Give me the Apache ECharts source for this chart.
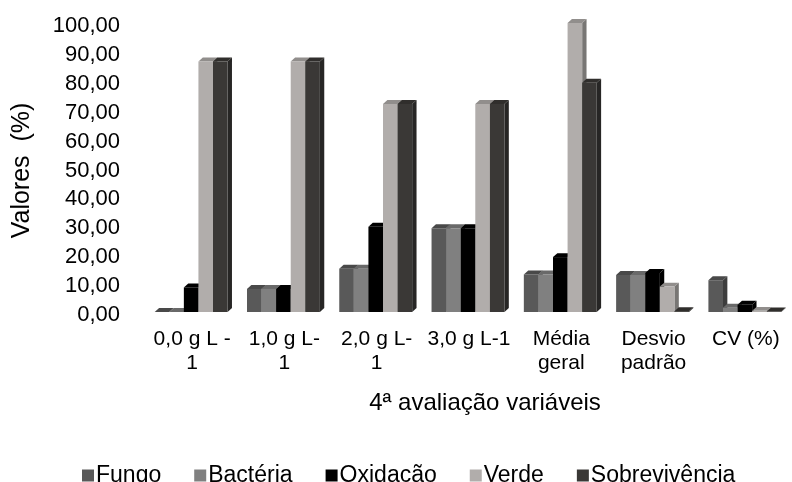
<!DOCTYPE html>
<html><head><meta charset="utf-8">
<script src="https://cdn.jsdelivr.net/npm/echarts@6/dist/echarts.min.js"></script>
<style>html,body{margin:0;padding:0;background:#fff}#c{width:792px;height:482px}</style>
</head><body><div id="c"></div>
<script>
var categories = ["0,0 g L -1", "1,0 g L-1", "2,0 g L-1", "3,0 g L-1", "Média geral", "Desvio padrão", "CV (%)"];
var categoryLabels = ["0,0 g L -\n1", "1,0 g L-\n1", "2,0 g L-\n1", "3,0 g L-1", "Média\ngeral", "Desvio\npadrão", "CV (%)"];
var seriesNames = ["Fungo", "Bactéria", "Oxidacão", "Verde", "Sobrevivência"];
var fungo = [0, 8, 15, 29, 13, 12.8, 11];
var bacteria = [0, 8, 15, 29, 13, 12.8, 1.5];
var oxidacao = [8.5, 8, 29.5, 29, 19, 13.5, 2.5];
var verde = [86.67, 86.67, 72, 72, 100, 8.8, 0.4];
var sobrevivencia = [86.67, 86.67, 72, 72, 79.33, 0.3, 0.2];
var yTicks = [0, 10, 20, 30, 40, 50, 60, 70, 80, 90, 100];
var colors = ["#595959", "#808080", "#000000", "#b1adab", "#3a3836"];

var FONT = "'Liberation Sans', Arial, sans-serif";

function shade(hex, f) {
  var n = parseInt(hex.slice(1), 16);
  var r = Math.round(((n >> 16) & 255) * f), g = Math.round(((n >> 8) & 255) * f), b = Math.round((n & 255) * f);
  return "rgb(" + r + "," + g + "," + b + ")";
}

function renderItem(params, api) {
  var s = params.seriesIndex;
  var idx = api.value(0), v = api.value(1);
  var base = api.coord([idx, 0]);
  var top = api.coord([idx, v]);
  var band = api.size([1, 0])[0];
  var w = band * 0.158;
  var dx = w * 0.3, dy = w * 0.27;
  var lift = 3;
  var x0 = base[0] - 2.5 * w - 1 + s * w;
  var yb = base[1] - lift, yt = top[1] - lift;
  var c = colors[s];
  return {
    type: "group",
    children: [
      { type: "polygon", shape: { points: [[x0 + w, yb], [x0 + w + dx, yb - dy], [x0 + w + dx, yt - dy], [x0 + w, yt]] }, style: { fill: shade(c, 0.68) } },
      { type: "polygon", shape: { points: [[x0, yt], [x0 + dx, yt - dy], [x0 + w + dx, yt - dy], [x0 + w, yt]] }, style: { fill: shade(c, 0.82) } },
      { type: "rect", shape: { x: x0, y: yt, width: w, height: Math.max(0, yb - yt) }, style: { fill: c } }
    ]
  };
}

var allData = [fungo, bacteria, oxidacao, verde, sobrevivencia];
var series = allData.map(function (arr, s) {
  return {
    name: seriesNames[s],
    type: "custom",
    renderItem: renderItem,
    itemStyle: { color: colors[s] },
    encode: { x: 0, y: 1 },
    data: arr.map(function (v, i) { return [i, v]; })
  };
});

var chart = echarts.init(document.getElementById("c"));
chart.setOption({
  animation: false,
  backgroundColor: "#fff",
  textStyle: { fontFamily: FONT },
  grid: { left: 146, top: 26, width: 665, height: 289, containLabel: false },
  xAxis: {
    type: "category",
    data: categories,
    axisLine: { show: false },
    axisTick: { show: false },
    splitLine: { show: false },
    axisLabel: {
      interval: 0, margin: 12, fontSize: 21, lineHeight: 24, color: "#000", fontFamily: FONT,
      formatter: function (val, i) { return categoryLabels[i]; }
    },
    name: "4ª avaliação variáveis",
    nameLocation: "middle",
    nameGap: 76,
    nameTextStyle: { fontSize: 24, color: "#000", fontFamily: FONT, padding: [0, 0, 0, 32] }
  },
  yAxis: {
    type: "value",
    min: yTicks[0], max: yTicks[yTicks.length - 1], interval: 10,
    axisLine: { show: false },
    axisTick: { show: false },
    splitLine: { show: false },
    axisLabel: {
      margin: 26, fontSize: 22, color: "#000", fontFamily: FONT,
      formatter: function (v) { return v.toFixed(2).replace(".", ","); }
    },
    name: "Valores  (%)",
    nameLocation: "middle",
    nameRotate: 90,
    nameGap: 111,
    nameTextStyle: { fontSize: 25, color: "#000", fontFamily: FONT }
  },
  legend: {
    left: 77, top: 459,
    icon: "rect", itemWidth: 12, itemHeight: 12, itemGap: 33,
    textStyle: { fontSize: 23, color: "#000", fontFamily: FONT, padding: [0, 0, 0, -3] },
    data: seriesNames
  },
  series: series
});
</script></body></html>
